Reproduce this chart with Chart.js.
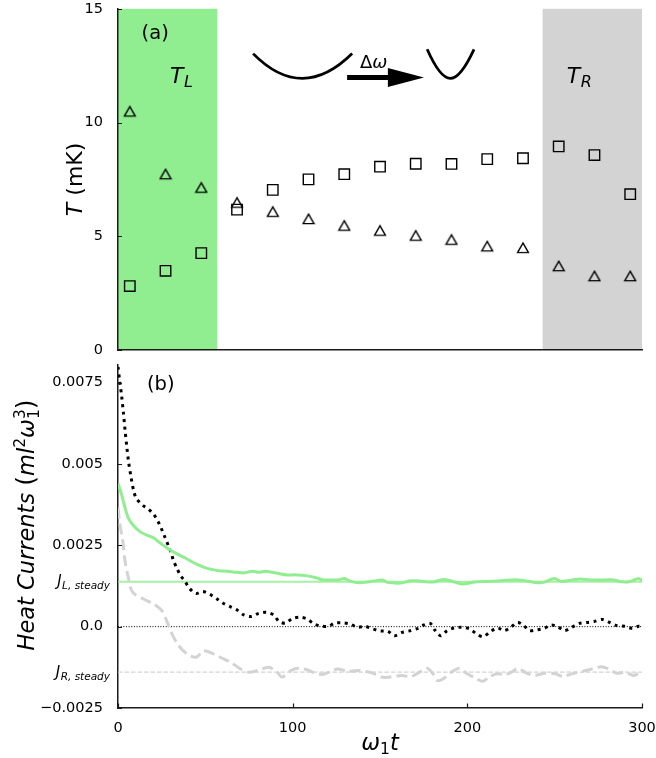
<!DOCTYPE html>
<html>
<head>
<meta charset="utf-8">
<script src="https://cdn.jsdelivr.net/npm/chart.js@4.4.1/dist/chart.umd.min.js"></script>
<style>
  html, body { margin: 0; padding: 0; background: #fff; }
  #wrap { position: relative; width: 656px; height: 758px; }
  canvas { position: absolute; left: 0; }
  #tempChart { top: 0; }
  #currentChart { top: 360px; }
</style>
</head>
<body>
<div id="wrap">
  <canvas id="tempChart" width="656" height="360"></canvas>
  <canvas id="currentChart" width="656" height="398"></canvas>
</div>
<script>
// ---- panel (a): temperature along the chain ----
const sites = [1, 2, 3, 4, 5, 6, 7, 8, 9, 10, 11, 12, 13, 14, 15];
const tempSquares = [2.81, 3.48, 4.26, 6.17, 7.04, 7.5, 7.73, 8.06, 8.19, 8.18, 8.39, 8.43, 8.95, 8.57, 6.85];
const tempTriangles = [10.49, 7.73, 7.14, 6.48, 6.08, 5.76, 5.47, 5.25, 5.03, 4.85, 4.56, 4.49, 3.69, 3.25, 3.25];
const tempTicks = [0, 5, 10, 15];
const leftBathEnd = 3.45;
const rightBathStart = 12.55;

// ---- panel (b): heat currents vs time ----
const tLeft = [0, 2, 4, 6, 9, 12.6, 16.5, 20.3, 24, 29, 34, 39.5, 45, 51, 57.7, 62.5, 68, 72, 77, 80.6,
  84.5, 88.3, 93, 97, 102.7, 108.4, 113, 117, 122.8, 126.6, 129.5, 133.3, 138, 144.8, 151.5, 154.4, 162, 167.8, 174.5, 180.3,
  187, 192.7, 197.5, 204.2, 211.9, 219.5, 227.2, 232.9, 238.7, 243.5, 249.8, 254, 263.6, 273.2, 282.8, 288.5, 293.3, 298.1, 300];
const jLeft = [0.0044, 0.00407, 0.00366, 0.00333, 0.0031, 0.00292, 0.00281, 0.00273, 0.00258, 0.00238, 0.00223, 0.00208, 0.00192, 0.00179, 0.00172, 0.0017, 0.00167, 0.00165, 0.0017, 0.00167,
  0.0017, 0.00167, 0.00162, 0.00159, 0.00159, 0.00156, 0.00151, 0.00144, 0.00143, 0.00144, 0.00148, 0.00139, 0.00135, 0.00139, 0.00143, 0.00136, 0.00134, 0.00141, 0.00139, 0.00137,
  0.00145, 0.00137, 0.00131, 0.00137, 0.00139, 0.00141, 0.00144, 0.00141, 0.00136, 0.00136, 0.00148, 0.00139, 0.00146, 0.00143, 0.00144, 0.00138, 0.00139, 0.00148, 0.00141];

const tSum = [0, 1.1, 2.1, 3.1, 4, 5, 6, 7.5, 9.2, 10.7, 12.6, 14.6, 17.4, 20.3, 22.2, 23.7, 25.4, 27, 28.9, 30.5,
  31.8, 33.7, 35.6, 38.5, 41, 44.6, 48.5, 52.7, 56.7, 60.2, 64.4, 68.2, 72, 76.3, 80.6, 85, 89.3, 92.1, 96, 99.8,
  104.2, 108.4, 112.3, 116, 120.3, 124.1, 128.5, 132.9, 137.2, 141.4, 145.8, 150.2, 154.4, 158.2, 162.5, 166.9, 171.3, 175.1, 178.7, 181.6,
  184.7, 188.5, 192.7, 197.1, 201.3, 205.2, 209, 212.8, 217.1, 221.1, 224.9, 228.7, 232, 235.5, 239.7, 244.1, 247.9, 251.7, 255.6, 259.8,
  264, 268.4, 272.8, 277.4, 281.4, 285.6, 290.1, 294.3, 298.1, 300];
const jSum = [0.00798, 0.00749, 0.00708, 0.00657, 0.00606, 0.00555, 0.00509, 0.00458, 0.00412, 0.00392, 0.00381, 0.00371, 0.00361, 0.00346, 0.0033, 0.00315, 0.00294, 0.00273, 0.00248, 0.00225,
  0.00202, 0.0018, 0.00159, 0.00138, 0.00117, 0.00102, 0.00108, 0.00099, 0.00085, 0.00072, 0.00061, 0.00051, 0.00036, 0.00031, 0.00041, 0.00044, 0.00035, 0.00016, 0.00011, 0.00025,
  0.00029, 0.00023, 0.00008, 0.00002, 0.00001, 0.00011, 0.00012, 0.00008, -0.00002, 0.00001, -0.00007, -0.00013, -0.00014, -0.00028, -0.00018, -0.00013, -0.00006, 0.00005, 0.0001, -0.00012,
  -0.00028, -0.00012, -0.00004, -0.00002, -0.00007, -0.00022, -0.00031, -0.00017, -0.00004, -0.00012, -0.00002, 0.00013, 0.00005, -0.00012, -0.0001, -0.00005, 0.00005, 0, -0.00012, -0.00002,
  0.0001, 0.00013, 0.00016, 0.00022, 0.00013, 0.00003, 0.00001, -0.00005, 0.00001, 0];

const tRight = [0, 1.1, 2.7, 4, 5.9, 7.5, 9.5, 14.6, 20.3, 25.1, 27.9, 30.9, 34.7, 39.5, 44.8, 49, 54.8, 58.6, 64.4, 70.1,
  74.9, 79.7, 86.4, 91.2, 94, 98.9, 103.6, 108.4, 113.2, 117, 120.9, 125.7, 131.4, 137.2, 142, 145.8, 150.6, 156.3, 162.1, 167.8,
  172.6, 177, 180.3, 183.2, 187, 190.8, 195.6, 199.4, 204.2, 209, 212.8, 217.6, 221.4, 225.3, 229.1, 233.9, 238.7, 244.4, 250.2, 255,
  259.8, 265.5, 271.3, 277, 280.9, 285.6, 290.4, 295.2, 298.1, 300];
const jRight = [0.00366, 0.00315, 0.00264, 0.00202, 0.00151, 0.00115, 0.001, 0.00085, 0.0007, 0.00049, 0.00018, -0.00022, -0.00058, -0.00084, -0.00094, -0.00074, -0.00084, -0.00094, -0.00109, -0.0013,
  -0.0014, -0.00135, -0.00125, -0.0014, -0.00155, -0.00135, -0.00127, -0.00133, -0.00143, -0.00147, -0.0014, -0.0013, -0.00137, -0.00135, -0.00138, -0.00143, -0.00155, -0.00155, -0.0015, -0.00153,
  -0.0014, -0.00128, -0.00145, -0.00166, -0.00157, -0.0014, -0.00128, -0.00143, -0.00157, -0.00168, -0.00153, -0.00145, -0.00148, -0.0014, -0.00128, -0.00143, -0.0015, -0.00143, -0.00145, -0.00153,
  -0.00145, -0.00138, -0.0013, -0.00123, -0.0013, -0.00143, -0.0014, -0.0015, -0.00143, -0.0014];

const jLeftSteady = 0.00138;
const jRightSteady = -0.0014;
const currentTicks = [-0.0025, 0, 0.0025, 0.005, 0.0075];
const currentTickLabels = ['\u22120.0025', '0.0', '0.0025', '0.005', '0.0075'];
const timeTicks = [0, 100, 200, 300];

const FAMILY = '"DejaVu Sans", sans-serif';
const AXIS = '#1a1a1a';
const GREEN = '#90ee90';
const GRAY = '#d3d3d3';

const pairs = (xs, ys) => xs.map((x, i) => ({ x: x, y: ys[i] }));
const fontOf = p => (p.i ? 'italic ' : '') + p.s + 'px ' + FAMILY;

// draw a run of text pieces (italic / sub / superscript), pieces with stack:true share x with the next one
function drawRich(ctx, parts, x, y, align) {
  let total = 0, pend = 0;
  parts.forEach(p => {
    ctx.font = fontOf(p);
    const w = ctx.measureText(p.t).width + (p.gap || 0);
    if (p.stack) { pend = w; return; }
    total += Math.max(w, pend); pend = 0;
  });
  let cx = align === 'center' ? x - total / 2 : align === 'right' ? x - total : x;
  pend = 0;
  parts.forEach(p => {
    ctx.font = fontOf(p);
    ctx.fillText(p.t, cx, y + (p.dy || 0));
    const w = ctx.measureText(p.t).width + (p.gap || 0);
    if (p.stack) { pend = w; return; }
    cx += Math.max(w, pend); pend = 0;
  });
}

function drawRotated(ctx, parts, x, y) {
  ctx.save();
  ctx.translate(x, y);
  ctx.rotate(-Math.PI / 2);
  drawRich(ctx, parts, 0, 0, 'center');
  ctx.restore();
}

// matplotlib-like ticks pointing into the axes
const inwardTicks = {
  id: 'inwardTicks',
  afterDraw(chart, args, opts) {
    const { ctx, chartArea: a, scales } = chart;
    ctx.save();
    ctx.strokeStyle = AXIS;
    ctx.lineWidth = 1.2;
    ctx.beginPath();
    scales.y.ticks.forEach(t => {
      const p = Math.round(scales.y.getPixelForValue(t.value)) + 0.5;
      ctx.moveTo(a.left, p); ctx.lineTo(a.left + 4, p);
    });
    if (opts.x) {
      scales.x.ticks.forEach(t => {
        const p = Math.round(scales.x.getPixelForValue(t.value)) + 0.5;
        ctx.moveTo(p, a.bottom); ctx.lineTo(p, a.bottom - 4.5);
      });
    }
    ctx.stroke();
    ctx.restore();
  }
};

const squareFit = s => { s.paddingTop = 0; s.paddingBottom = 0; s.paddingLeft = 0; s.paddingRight = 0; };

// triangle marker centred on its bounding box, open
function triangleMarker() {
  const c = document.createElement('canvas');
  c.width = 14; c.height = 14;
  const g = c.getContext('2d');
  g.strokeStyle = '#000';
  g.lineWidth = 1.4;
  g.lineJoin = 'miter';
  g.beginPath();
  g.moveTo(7, 2.2); g.lineTo(12.4, 11.6); g.lineTo(1.6, 11.6); g.closePath();
  g.stroke();
  return c;
}

// ---------------- chart (a) ----------------
const bathPlugin = {
  id: 'baths',
  beforeDraw(chart) {
    const { ctx, chartArea: a, scales: { x } } = chart;
    ctx.save();
    ctx.fillStyle = GREEN;
    ctx.fillRect(a.left, a.top, x.getPixelForValue(leftBathEnd) - a.left, a.bottom - a.top);
    ctx.fillStyle = GRAY;
    const g0 = x.getPixelForValue(rightBathStart);
    ctx.fillRect(g0, a.top, a.right - g0, a.bottom - a.top);
    ctx.restore();
  }
};

const wellWide = { left: 4.45, mid: 5.82, right: 7.22, top: 13.03, bottom: 11.94, k: 2 / 3 };
const wellNarrow = { left: 9.32, mid: 9.96, right: 10.63, top: 13.22, bottom: 11.94, k: 0.75 };
const quench = { from: 7.08, headBase: 8.22, to: 9.23, level: 11.98 };

const sketchPlugin = {
  id: 'sketch',
  afterDatasetsDraw(chart) {
    const { ctx, scales: { x, y } } = chart;
    ctx.save();
    ctx.strokeStyle = '#000';
    ctx.fillStyle = '#000';
    ctx.lineWidth = 2.8;
    ctx.lineCap = 'butt';
    [wellWide, wellNarrow].forEach(w => {
      const xl = x.getPixelForValue(w.left), xm = x.getPixelForValue(w.mid), xr = x.getPixelForValue(w.right);
      const yt = y.getPixelForValue(w.top), yb = y.getPixelForValue(w.bottom);
      const cy = (4 * yb - yt) / 3;
      ctx.beginPath();
      ctx.moveTo(xl, yt);
      ctx.bezierCurveTo(xl + w.k * (xm - xl), cy, xr - w.k * (xr - xm), cy, xr, yt);
      ctx.stroke();
    });
    // arrow
    const ay = y.getPixelForValue(quench.level);
    const a0 = x.getPixelForValue(quench.from), ab = x.getPixelForValue(quench.headBase), a1 = x.getPixelForValue(quench.to);
    ctx.lineWidth = 5;
    ctx.beginPath(); ctx.moveTo(a0, ay); ctx.lineTo(ab + 2, ay); ctx.stroke();
    ctx.beginPath();
    ctx.moveTo(ab, ay - 9.5); ctx.lineTo(a1, ay); ctx.lineTo(ab, ay + 9.5); ctx.closePath();
    ctx.fill();

    ctx.textBaseline = 'alphabetic';
    drawRich(ctx, [{ t: '\u0394', s: 18 }, { t: '\u03c9', s: 18, i: true }],
      x.getPixelForValue(7.44), y.getPixelForValue(12.39), 'left');
    drawRich(ctx, [{ t: '(a)', s: 19.5 }], x.getPixelForValue(1.33), y.getPixelForValue(13.67), 'left');
    drawRich(ctx, [{ t: 'T', s: 22, i: true, gap: 0.5 }, { t: 'L', s: 16, i: true, dy: 4 }],
      x.getPixelForValue(2.125), y.getPixelForValue(11.72), 'left');
    drawRich(ctx, [{ t: 'T', s: 22, i: true, gap: 0.5 }, { t: 'R', s: 16, i: true, dy: 4 }],
      x.getPixelForValue(13.225), y.getPixelForValue(11.72), 'left');
    ctx.restore();
  },
  afterDraw(chart) {
    const { ctx, chartArea: a } = chart;
    ctx.save();
    ctx.fillStyle = '#000';
    ctx.textBaseline = 'alphabetic';
    drawRotated(ctx, [{ t: 'T', s: 22, i: true }, { t: ' (mK)', s: 22 }], 82, (a.top + a.bottom) / 2);
    ctx.restore();
  }
};

new Chart(document.getElementById('tempChart'), {
  type: 'scatter',
  data: {
    datasets: [
      {
        data: pairs(sites, tempSquares),
        pointStyle: 'rect',
        pointRadius: 7.4,
        borderColor: '#000',
        borderWidth: 1.4,
        backgroundColor: 'rgba(0,0,0,0)'
      },
      {
        data: pairs(sites, tempTriangles),
        pointStyle: triangleMarker(),
        pointRadius: 7
      }
    ]
  },
  options: {
    responsive: false,
    devicePixelRatio: 1,
    animation: false,
    events: [],
    layout: { padding: { left: 0, right: 14, top: 7, bottom: 0 } },
    plugins: { legend: { display: false }, tooltip: { enabled: false }, inwardTicks: { x: false } },
    scales: {
      x: {
        type: 'linear', min: 0.67, max: 15.33,
        grid: { display: false },
        border: { display: true, color: AXIS, width: 1.5 },
        ticks: { display: false },
        afterFit: s => { s.height = 10; squareFit(s); }
      },
      y: {
        min: 0, max: 15,
        afterBuildTicks: s => { s.ticks = tempTicks.map(v => ({ value: v })); },
        grid: { display: false },
        border: { display: true, color: AXIS, width: 1.5 },
        ticks: { color: '#000', padding: 7, font: { family: FAMILY, size: 14.5 } },
        afterFit: s => { s.width = 118; squareFit(s); }
      }
    }
  },
  plugins: [bathPlugin, sketchPlugin, inwardTicks]
});

// ---------------- chart (b) ----------------
const currentLabels = {
  id: 'currentLabels',
  afterDraw(chart) {
    const { ctx, chartArea: a, scales: { x, y } } = chart;
    ctx.save();
    ctx.fillStyle = '#000';
    ctx.textBaseline = 'alphabetic';
    [['L', jLeftSteady], ['R', jRightSteady]].forEach(([side, v]) => {
      const py = y.getPixelForValue(v);
      drawRich(ctx, [{ t: 'J', s: 15, i: true, gap: 0.5 }, { t: side + ', steady', s: 10.5, i: true, dy: 3 }], 110, py + 4.5, 'right');
    });
    drawRich(ctx, [{ t: '(b)', s: 19.5 }], x.getPixelForValue(16.6), y.getPixelForValue(0.00726), 'left');
    // x title
    drawRich(ctx, [{ t: '\u03c9', s: 22.5, i: true }, { t: '1', s: 15.5, dy: 4 }, { t: 't', s: 22.5, i: true }],
      (a.left + a.right) / 2, 390, 'center');
    // y title
    drawRotated(ctx, [
      { t: 'Heat Currents ', s: 22.5, i: true },
      { t: '(', s: 25 },
      { t: 'ml', s: 22.5, i: true },
      { t: '2', s: 15.5, dy: -9 },
      { t: '\u03c9', s: 22.5, i: true },
      { t: '3', s: 15.5, dy: -9, stack: true },
      { t: '1', s: 15.5, dy: 5 },
      { t: ')', s: 25 }
    ], 33.5, 165);
    ctx.restore();
  }
};

new Chart(document.getElementById('currentChart'), {
  type: 'scatter',
  data: {
    datasets: [
      {
        data: pairs(tLeft, jLeft), showLine: true, pointRadius: 0,
        borderColor: GREEN, borderWidth: 3, tension: 0.3
      },
      {
        data: pairs(tSum, jSum), showLine: true, pointRadius: 0,
        borderColor: '#000', borderWidth: 3, borderDash: [3, 4.5], tension: 0.3
      },
      {
        data: pairs(tRight, jRight), showLine: true, pointRadius: 0,
        borderColor: GRAY, borderWidth: 3, borderDash: [11, 5], tension: 0.3
      },
      {
        data: pairs([timeTicks[0], timeTicks[timeTicks.length - 1]], [jLeftSteady, jLeftSteady]),
        showLine: true, pointRadius: 0, borderColor: 'rgba(144,238,144,0.8)', borderWidth: 2
      },
      {
        data: pairs([timeTicks[0], timeTicks[timeTicks.length - 1]], [0, 0]),
        showLine: true, pointRadius: 0, borderColor: '#000', borderWidth: 1, borderDash: [1, 1.65]
      },
      {
        data: pairs([timeTicks[0], timeTicks[timeTicks.length - 1]], [jRightSteady, jRightSteady]),
        showLine: true, pointRadius: 0, borderColor: GRAY, borderWidth: 1.2, borderDash: [4.5, 2]
      }
    ]
  },
  options: {
    responsive: false,
    devicePixelRatio: 1,
    animation: false,
    events: [],
    layout: { padding: { left: 0, right: 14, top: 5, bottom: 0 } },
    plugins: { legend: { display: false }, tooltip: { enabled: false }, inwardTicks: { x: true } },
    scales: {
      x: {
        type: 'linear', min: 0, max: 300,
        afterBuildTicks: s => { s.ticks = timeTicks.map(v => ({ value: v })); },
        grid: { display: false },
        border: { display: true, color: AXIS, width: 1.5 },
        ticks: { color: '#000', padding: 4, maxRotation: 0, font: { family: FAMILY, size: 14.5 } },
        afterFit: s => { s.height = 50; squareFit(s); }
      },
      y: {
        min: -0.0025, max: 0.00804,
        afterBuildTicks: s => { s.ticks = currentTicks.map(v => ({ value: v })); },
        grid: { display: false },
        border: { display: true, color: AXIS, width: 1.5 },
        ticks: {
          color: '#000', padding: 7, font: { family: FAMILY, size: 14.5 },
          callback: (v, i) => currentTickLabels[i]
        },
        afterFit: s => { s.width = 118; squareFit(s); }
      }
    }
  },
  plugins: [currentLabels, inwardTicks]
});
</script>
</body>
</html>
